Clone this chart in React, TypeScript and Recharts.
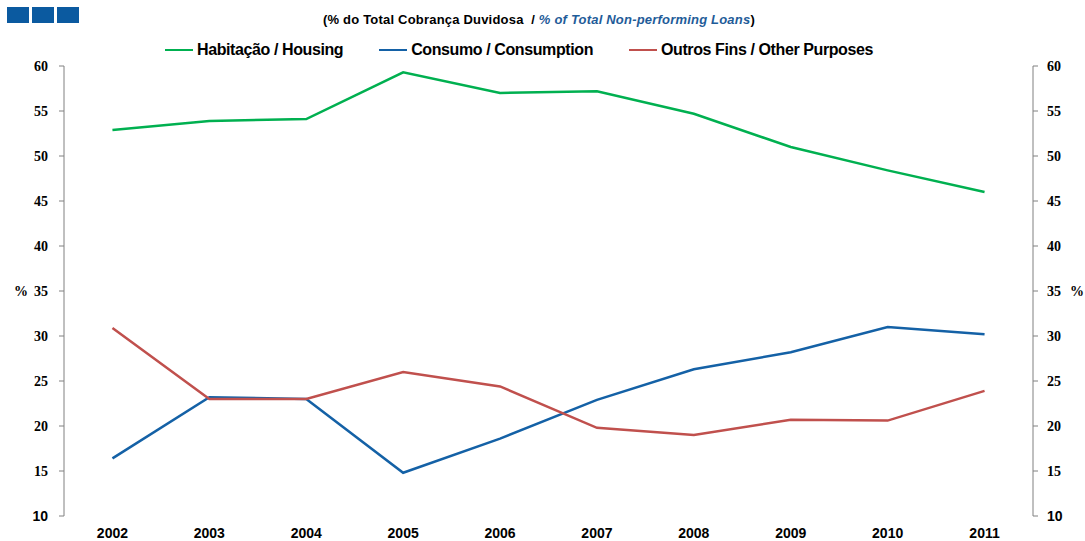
import React from "react"
import { LineChart, Line, XAxis, YAxis } from "recharts"

const years = ["2002", "2003", "2004", "2005", "2006", "2007", "2008", "2009", "2010", "2011"]
const housing = [52.9, 53.9, 54.1, 59.3, 57.0, 57.2, 54.7, 51.0, 48.4, 46.0]
const consumption = [16.4, 23.2, 23.0, 14.8, 18.6, 22.9, 26.3, 28.2, 31.0, 30.2]
const otherPurposes = [30.9, 23.0, 23.0, 26.0, 24.4, 19.8, 19.0, 20.7, 20.6, 23.9]
const yTicks = [10, 15, 20, 25, 30, 35, 40, 45, 50, 55, 60]
const yearBounds = [2001.5, 2002.5, 2003.5, 2004.5, 2005.5, 2006.5, 2007.5, 2008.5, 2009.5, 2010.5, 2011.5]

// the axes are mirrored, so the series are spread over both pairs so every axis draws
const seriesInfo = [
  { key: "housing", name: "Habitação / Housing", color: "#00B050", xId: "bounds", yId: "right" },
  { key: "consumption", name: "Consumo / Consumption", color: "#1461A6", xId: "labels", yId: "left" },
  { key: "other", name: "Outros Fins / Other Purposes", color: "#C0504D", xId: "labels", yId: "left" },
]

const data = years.map((y, i) => ({
  year: Number(y),
  housing: housing[i],
  consumption: consumption[i],
  other: otherPurposes[i],
}))

const SANS = "'Liberation Sans', Arial, sans-serif"
const SERIF = "'Liberation Serif', 'Times New Roman', serif"

function YTick(props: any) {
  const { x, y, payload, textAnchor } = props
  const v = payload.value
  return (
    <text
      x={x}
      y={y}
      dy="0.35em"
      textAnchor={textAnchor}
      fontFamily={v === 10 ? SANS : SERIF}
      fontWeight="bold"
      fontSize={14}
      fill="#000"
    >
      {v}
    </text>
  )
}

function ChartLegend() {
  return (
    <div
      style={{
        position: "absolute",
        left: 165,
        top: 41,
        display: "flex",
        gap: 36,
        fontFamily: SANS,
        fontWeight: "bold",
        fontSize: 16,
        letterSpacing: -0.4,
        color: "#000",
      }}
    >
      {seriesInfo.map((s) => (
        <div key={s.key} style={{ display: "flex", alignItems: "center" }}>
          <span style={{ display: "inline-block", width: 28, height: 2.5, background: s.color, marginRight: 4 }} />
          <span>{s.name}</span>
        </div>
      ))}
    </div>
  )
}

export default function App() {
  return (
    <div style={{ position: "absolute", left: 0, top: 0, width: 1085, height: 541, background: "#fff" }}>
      <div style={{ position: "absolute", left: 7, top: 7, display: "flex", gap: 3 }}>
        {[0, 1, 2].map((i) => (
          <div key={i} style={{ width: 22, height: 16, background: "#0B5AA0" }} />
        ))}
      </div>
      <div
        style={{
          position: "absolute",
          left: 323,
          top: 12,
          whiteSpace: "nowrap",
          fontFamily: SANS,
          fontWeight: "bold",
          fontSize: 13,
          letterSpacing: 0.2,
        }}
      >
        (% do Total Cobrança Duvidosa &nbsp;/ <span style={{ color: "#1F5C99", fontStyle: "italic" }}>% of Total Non-performing Loans</span>)
      </div>
      <div style={{ position: "absolute", left: 14, top: 284, fontFamily: SERIF, fontWeight: "bold", fontSize: 14 }}>%</div>
      <div style={{ position: "absolute", left: 1070, top: 284, fontFamily: SERIF, fontWeight: "bold", fontSize: 14 }}>%</div>
      <ChartLegend />
      <div style={{ position: "absolute", left: 0, top: 0 }}>
        <LineChart width={1085} height={541} data={data} margin={{ top: 66, right: 0, bottom: 0, left: 0 }}>
          <XAxis
            xAxisId="bounds"
            dataKey="year"
            type="number"
            domain={[2001.5, 2011.5]}
            ticks={yearBounds}
            tick={false}
            height={0}
            stroke="#808080"
            tickSize={5}
          />
          <XAxis
            xAxisId="labels"
            dataKey="year"
            type="number"
            domain={[2001.5, 2011.5]}
            ticks={years.map(Number)}
            tickLine={false}
            axisLine={false}
            tickSize={0}
            tickMargin={12}
            height={25}
            tick={{ fontFamily: SANS, fontWeight: "bold", fontSize: 14, fill: "#000" }}
          />
          <YAxis
            yAxisId="left"
            domain={[10, 60]}
            ticks={yTicks}
            width={64}
            stroke="#808080"
            tickSize={5}
            tickMargin={11}
            tick={<YTick />}
            interval={0}
          />
          <YAxis
            yAxisId="right"
            orientation="right"
            domain={[10, 60]}
            ticks={yTicks}
            width={52}
            stroke="#808080"
            tickSize={5}
            tickMargin={9}
            tick={<YTick />}
            interval={0}
          />
          {seriesInfo.map((s) => (
            <Line
              key={s.key}
              xAxisId={s.xId}
              yAxisId={s.yId}
              dataKey={s.key}
              name={s.name}
              stroke={s.color}
              strokeWidth={2.5}
              dot={false}
              isAnimationActive={false}
            />
          ))}
        </LineChart>
      </div>
    </div>
  )
}
